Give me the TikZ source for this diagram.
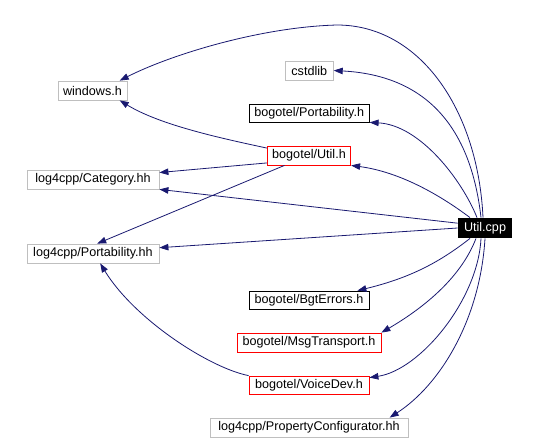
\documentclass[tikz,border=0pt]{standalone}
\usepackage{fontspec}
\setmainfont{Liberation Sans}
\usetikzlibrary{arrows.meta}
\definecolor{edgeblue}{HTML}{191970}
\definecolor{lgray}{HTML}{BFBFBF}
\begin{document}
\begin{tikzpicture}[x=1pt,y=-1pt,>={Stealth[length=9pt,width=6.5pt,inset=0pt]},
 box/.style={rectangle,inner sep=0pt,font=\fontsize{12.6}{14}\selectfont,line width=.8pt},
 ext/.style={box,draw=lgray}, doc/.style={box,draw=black}, nodoc/.style={box,draw=red},
 root/.style={box,fill=black,text=white},
 dep/.style={->,draw=edgeblue,line width=.8pt}]
\useasboundingbox (0,0) rectangle (537,440);
% files
\node[ext,minimum width=69pt,minimum height=19pt] (win) at (92.5,90.5) {windows.h};
\node[ext,minimum width=48pt,minimum height=19pt] (cstd) at (309.3,70.5) {cstdlib};
\node[doc,minimum width=120pt,minimum height=18pt] (bport) at (309.2,113) {bogotel/Portability.h};
\node[nodoc,minimum width=83.4pt,minimum height=19pt] (butil) at (309,155.5) {bogotel/Util.h};
\node[ext,minimum width=132pt,minimum height=19pt] (cat) at (93,179.5) {log4cpp/Category.hh};
\node[root,minimum width=54pt,minimum height=20pt] (cpp) at (485,228) {Util.cpp};
\node[ext,minimum width=132pt,minimum height=19pt] (lport) at (93,253.5) {log4cpp/Portability.hh};
\node[doc,minimum width=120pt,minimum height=18pt] (bgt) at (309,300) {bogotel/BgtErrors.h};
\node[nodoc,minimum width=144pt,minimum height=19pt] (msg) at (309,342.5) {bogotel/MsgTransport.h};
\node[nodoc,minimum width=120pt,minimum height=18pt] (voice) at (309,385) {bogotel/VoiceDev.h};
\node[ext,minimum width=198pt,minimum height=19pt] (prop) at (309,427.5) {log4cpp/PropertyConfigurator.hh};
% includes of Util.cpp
\draw[dep] ([xshift=-2pt]cpp.north) .. controls (478,110) and (420,25) .. (337,25) .. controls (260,27) and (170,55) .. (win.20);
\draw[dep] ([xshift=-4pt]cpp.north) .. controls (470,120) and (420,75) .. (cstd.east);
\draw[dep] ([xshift=-8pt]cpp.north) .. controls (462,180) and (420,125) .. (bport.south east);
\draw[dep] ([xshift=-15pt]cpp.north) .. controls (440,195) and (400,172) .. (butil.south east);
\draw[dep] (cpp.170) -- (cat.south east); \draw[dep] (cpp.west) -- (lport.5);
\draw[dep] ([xshift=-15pt]cpp.south) .. controls (440,262) and (410,278) .. (bgt.11);
\draw[dep] ([xshift=-9pt]cpp.south) .. controls (460,280) and (420,310) .. (msg.north east);
\draw[dep] ([xshift=-4pt]cpp.south) .. controls (478,300) and (420,370) .. (voice.7);
\draw[dep] (cpp.south) .. controls (480,320) and (440,385) .. (prop.7);
% includes of the headers
\draw[dep] (butil.170) .. controls (220,138) and (160,125) .. (win.-20);
\draw[dep] (butil.-170) -- (cat.6); \draw[dep] (butil.202) -- (lport.67);
\draw[dep] (voice.north west) .. controls (210,368) and (135,320) .. (lport.-54);
\end{tikzpicture}
\end{document}
